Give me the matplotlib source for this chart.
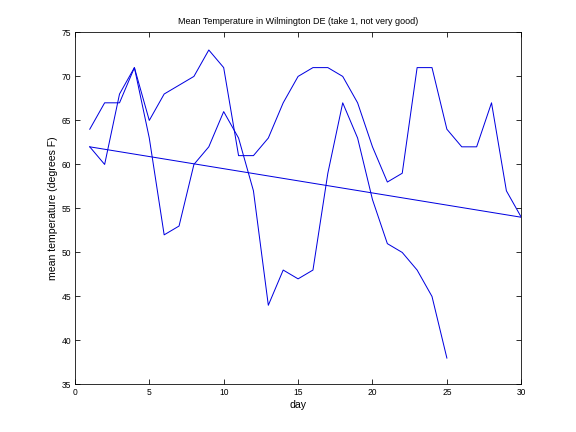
import matplotlib
matplotlib.use("Agg")
import matplotlib.pyplot as plt

# daily mean temperatures (deg F)
days_a = list(range(1, 31))
temps_a = [64, 67, 67, 71, 65, 68, 69, 70, 73, 71, 61, 61, 63, 67, 70,
           71, 71, 70, 67, 62, 58, 59, 71, 71, 64, 62, 62, 67, 57, 54]

days_b = list(range(1, 26))
temps_b = [62, 60, 68, 71, 63, 52, 53, 60, 62, 66, 63, 57, 44, 48, 47,
           48, 59, 67, 63, 56, 51, 50, 48, 45, 38]

# straight trend line
trend_days = [1, 30]
trend_vals = [62, 54]

plt.rcParams['font.family'] = ['Liberation Sans', 'DejaVu Sans']
plt.rcParams['font.size'] = 8.5

fig = plt.figure(figsize=(8, 6), dpi=72)
ax = fig.add_axes([0.13, 0.11, 0.775, 0.815])

ax.plot(days_a, temps_a, color='#0000e0', linewidth=1.0)
ax.plot(days_b, temps_b, color='#0000e0', linewidth=1.0)
ax.plot(trend_days, trend_vals, color='#0000e0', linewidth=1.0)

ax.set_xlim(0, 30)
ax.set_ylim(35, 75)
ax.set_xticks(range(0, 31, 5))
ax.set_yticks(range(35, 76, 5))
ax.tick_params(direction='in', top=True, right=True, length=5, width=0.8)
for s in ax.spines.values():
    s.set_linewidth(0.8)

ax.set_xlabel("day", fontsize=10.5, labelpad=3)
ax.set_ylabel("mean temperature (degrees F)", fontsize=10.5)
ax.set_title("Mean Temperature in Wilmington DE (take 1, not very good)",
             fontsize=9, pad=8)

fig.savefig("out.png", dpi=72)
